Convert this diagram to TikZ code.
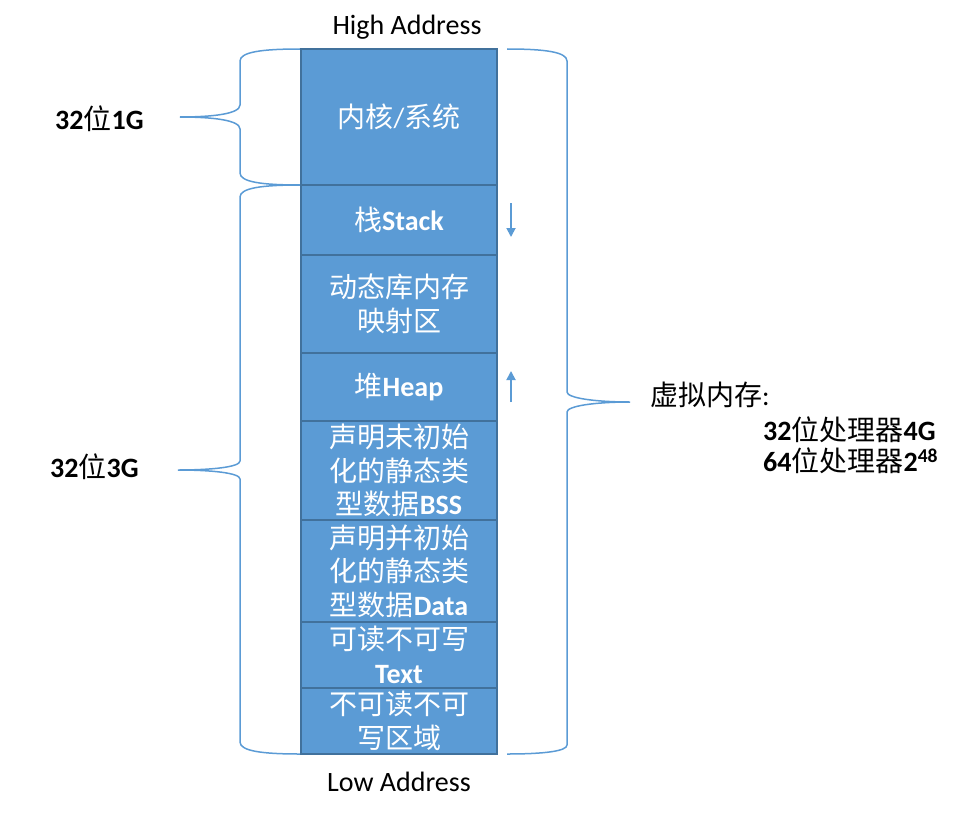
\documentclass[tikz,border=0pt]{standalone}
\usepackage{fontspec}
\setmainfont{Carlito}
\newfontfamily\cjk{Noto Sans CJK SC}
\usetikzlibrary{arrows.meta}
\definecolor{boxfill}{HTML}{5B9BD5}
\definecolor{boxline}{HTML}{41719C}
\definecolor{bracecol}{HTML}{5B9BD5}
\newcommand\zh[1]{{\cjk #1}}
\begin{document}
\begin{tikzpicture}[x=1pt,y=-1pt,
  seg/.style={draw=boxline, line width=1.5pt, fill=boxfill, minimum width=196pt, inner sep=0pt, text=white, align=center, font=\fontsize{28}{33.5}\selectfont},
  lbl/.style={inner sep=0pt, font=\fontsize{28}{33.5}\selectfont},
  brc/.style={draw=bracecol, line width=1.5pt},
  arr/.style={draw=boxfill, line width=1.8pt, -{Triangle[width=9pt,length=9pt]}}]
\useasboundingbox (0,0) rectangle (980,816);

% braces
\draw[brc] (300,49) .. controls (262,49) and (240,52) .. (240,61) -- (240,105)
  .. controls (240,114) and (212,117) .. (180,117)
  .. controls (212,117) and (240,120) .. (240,129) -- (240,173)
  .. controls (240,182) and (262,185) .. (300,185);
\draw[brc] (300,185) .. controls (262,185) and (240,188) .. (240,197) -- (240,461)
  .. controls (240,467) and (212,470) .. (178,470)
  .. controls (212,470) and (240,473) .. (240,479) -- (240,742)
  .. controls (240,751) and (262,754) .. (300,754);
\draw[brc] (507,49) .. controls (545,49) and (567,52) .. (567,61) -- (567,392)
  .. controls (567,398) and (595,402) .. (630,402)
  .. controls (595,402) and (567,406) .. (567,412) -- (567,745)
  .. controls (567,751) and (545,754) .. (507,754);

% memory segments
\node[seg, minimum height=136pt] (kern) at (399,117) {\zh{内核}/\zh{系统}};
\node[seg, minimum height=70pt] (stack) at (399,220) {\zh{栈}\textbf{Stack}};
\node[seg, minimum height=98pt] (mmap) at (399,304) {\zh{动态库内存}\\\zh{映射区}};
\node[seg, minimum height=68pt] (heap) at (399,387) {\zh{堆}\textbf{Heap}};
\node[seg, minimum height=99pt] (bss) at (399,470.5) {\zh{声明未初始}\\\zh{化的静态类}\\\zh{型数据}\textbf{BSS}};
\node[seg, minimum height=102pt] (data) at (399,571) {\zh{声明并初始}\\\zh{化的静态类}\\\zh{型数据}\textbf{Data}};
\node[seg, minimum height=66pt] (text) at (399,655) {\zh{可读不可写}\\\textbf{Text}};
\node[seg, minimum height=66pt] (null) at (399,721) {\zh{不可读不可}\\\zh{写区域}};

% growth arrows
\coordinate (sa1) at (511,203);
\coordinate (sa2) at (511,237);
\coordinate (ha1) at (511,402);
\coordinate (ha2) at (511,371);
\draw[arr] (sa1) -- (sa2);
\draw[arr] (ha1) -- (ha2);

% labels
\node[lbl] (high) at (407,27) {High Address};
\node[lbl] (low) at (399,782) {Low Address};
\node[lbl, anchor=west] (g1) at (55,119) {\textbf{32}\zh{位}\textbf{1G}};
\node[lbl, anchor=west] (g3) at (50,467) {\textbf{32}\zh{位}\textbf{3G}};
\node[lbl, anchor=west] (vm) at (650,395) {\zh{虚拟内存}:};
\node[lbl, anchor=west] (p32) at (763,430) {\textbf{32}\zh{位处理器}\textbf{4G}};
\node[lbl, anchor=west] (p64) at (763,461) {\textbf{64}\zh{位处理器}\textbf{2}\textsuperscript{\textbf{48}}};
\end{tikzpicture}
\end{document}
